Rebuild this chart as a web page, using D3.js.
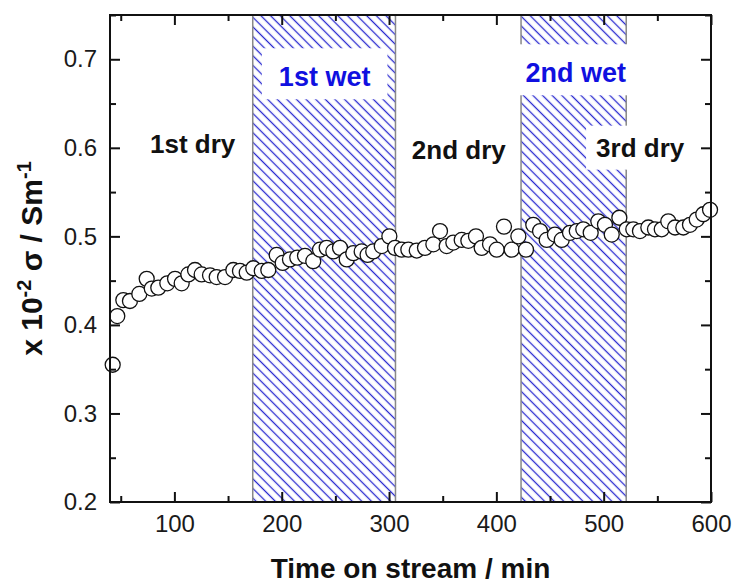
<!DOCTYPE html>
<html>
<head>
<meta charset="utf-8">
<script src="https://cdn.jsdelivr.net/npm/d3@7"></script>
<style>
  body { margin: 0; background: #fff; }
  svg { font-family: "Liberation Sans", Arial, sans-serif; }
</style>
</head>
<body>
<div id="chart"></div>
<script>
// Time on stream (min) and conductivity (x 10^-2 S/m)
const times = [
  42.5, 46.8, 52.4, 58.6, 67.3, 74.2, 78.9, 85.0, 93.4, 100.6,
  106.8, 113.0, 119.2, 125.4, 133.2, 139.4, 147.2, 154.9, 161.1, 167.4,
  173.5, 181.4, 187.5, 195.3, 200.9, 207.7, 214.5, 221.7, 229.4, 235.7,
  241.9, 248.1, 254.3, 260.6, 266.7, 274.5, 280.0, 285.3, 293.2, 300.3,
  305.6, 311.8, 318.0, 325.8, 333.5, 341.3, 347.5, 353.7, 359.9, 367.7,
  373.9, 381.0, 386.3, 394.1, 400.3, 407.1, 414.3, 420.5, 427.6, 434.4,
  440.7, 446.9, 454.6, 460.9, 468.6, 474.9, 481.0, 487.9, 495.0, 501.2,
  507.5, 514.6, 521.5, 527.6, 533.8, 541.6, 547.8, 554.1, 560.2, 566.5,
  574.2, 580.4, 586.7, 592.8, 599.1
]
const sigma = [
  0.355, 0.410, 0.428, 0.427, 0.435, 0.452, 0.441, 0.442, 0.447, 0.452,
  0.447, 0.457, 0.462, 0.457, 0.456, 0.454, 0.454, 0.462, 0.461, 0.459,
  0.464, 0.461, 0.462, 0.479, 0.470, 0.474, 0.476, 0.478, 0.472, 0.485,
  0.487, 0.483, 0.487, 0.474, 0.481, 0.483, 0.479, 0.483, 0.489, 0.500,
  0.487, 0.485, 0.485, 0.484, 0.487, 0.491, 0.506, 0.489, 0.493, 0.496,
  0.495, 0.500, 0.487, 0.491, 0.485, 0.511, 0.485, 0.500, 0.485, 0.513,
  0.506, 0.496, 0.502, 0.496, 0.504, 0.506, 0.508, 0.504, 0.517, 0.513,
  0.502, 0.521, 0.508, 0.508, 0.506, 0.510, 0.508, 0.508, 0.517, 0.510,
  0.510, 0.513, 0.519, 0.525, 0.530
]

// wet periods (min)
const wetStart = [173, 423]
const wetEnd = [306, 521]

const phaseLabels = ["1st dry", "1st wet", "2nd dry", "2nd wet", "3rd dry"]

const xTickValues = [100, 200, 300, 400, 500, 600]
const xMinorValues = [50, 150, 250, 350, 450, 550]
const yTickValues = [0.2, 0.3, 0.4, 0.5, 0.6, 0.7]
const yMinorValues = [0.25, 0.35, 0.45, 0.55, 0.65, 0.75]

const width = 737
const height = 583
const margin = { top: 15, right: 26, bottom: 81, left: 110 }

const svg = d3
  .select("#chart")
  .append("svg")
  .attr("width", width)
  .attr("height", height)

const x = d3.scaleLinear().domain([40, 600]).range([margin.left, width - margin.right])
const y = d3.scaleLinear().domain([0.2, 0.75]).range([height - margin.bottom, margin.top])

// hatch pattern for the wet periods
const defs = svg.append("defs")
const hatch = defs
  .append("pattern")
  .attr("id", "hatch")
  .attr("patternUnits", "userSpaceOnUse")
  .attr("width", 6.8)
  .attr("height", 10)
  .attr("patternTransform", "rotate(-45)")
hatch
  .append("line")
  .attr("x1", 3.4)
  .attr("x2", 3.4)
  .attr("y1", 0)
  .attr("y2", 10)
  .attr("stroke", "#2a2ad0")
  .attr("stroke-width", 1.3)

const wet = wetStart.map((s, i) => ({ start: s, end: wetEnd[i] }))

svg
  .selectAll("rect.wet")
  .data(wet)
  .enter()
  .append("rect")
  .attr("class", "wet")
  .attr("x", d => x(d.start))
  .attr("y", y(0.75))
  .attr("width", d => x(d.end) - x(d.start))
  .attr("height", y(0.2) - y(0.75))
  .attr("fill", "url(#hatch)")
  .attr("stroke", "#888")
  .attr("stroke-width", 1.5)

// phase labels: anchor of each label (time, sigma), colour, size, white box padding
const labelLayout = [
  { t: 117, v: 0.594, color: "#111", size: 26, padX: 0, padTop: 0 },
  { t: 240, v: 0.6695, color: "#1010e0", size: 27, padX: 17, padTop: 14 },
  { t: 365, v: 0.587, color: "#111", size: 26, padX: 0, padTop: 0 },
  { t: 474, v: 0.674, color: "#1010e0", size: 27, padX: 17, padTop: 14 },
  { t: 534, v: 0.59, color: "#111", size: 26, padX: 10, padTop: 7 }
]

const labels = svg.append("g")
phaseLabels.forEach((txt, i) => {
  const l = labelLayout[i]
  const g = labels.append("g")
  const bg = g.append("rect").attr("fill", "#fff")
  const t = g
    .append("text")
    .attr("x", x(l.t))
    .attr("y", y(l.v))
    .attr("text-anchor", "middle")
    .attr("font-weight", "bold")
    .attr("font-size", l.size)
    .attr("fill", l.color)
    .text(txt)
  if (l.padX > 0) {
    const b = t.node().getBBox()
    bg.attr("x", b.x - l.padX)
      .attr("y", b.y - l.padTop)
      .attr("width", b.width + 2 * l.padX)
      .attr("height", b.height + l.padTop + 7)
  } else {
    bg.remove()
  }
})

// data points
svg
  .append("g")
  .selectAll("circle")
  .data(times)
  .enter()
  .append("circle")
  .attr("cx", d => x(d))
  .attr("cy", (d, i) => y(sigma[i]))
  .attr("r", 7.5)
  .attr("fill", "#fff")
  .attr("stroke", "#111")
  .attr("stroke-width", 1.3)

// axes with inward ticks on all four sides
const plotBottom = height - margin.bottom
const plotRight = width - margin.right

function styleAxis(g) {
  g.select(".domain").remove()
  g.selectAll(".tick line").attr("stroke", "#111").attr("stroke-width", 2)
  g.selectAll(".tick text")
    .attr("font-size", 24)
    .attr("fill", "#1a1a1a")
    .attr("font-family", "'Liberation Sans', Arial, sans-serif")
}

svg.append("g")
  .attr("transform", `translate(0, ${plotBottom})`)
  .call(d3.axisBottom(x).tickValues(xTickValues).tickSize(-10).tickPadding(13))
  .call(styleAxis)
svg.append("g")
  .attr("transform", `translate(0, ${plotBottom})`)
  .call(d3.axisBottom(x).tickValues(xMinorValues).tickSize(-6).tickFormat(""))
  .call(styleAxis)
svg.append("g")
  .attr("transform", `translate(0, ${margin.top})`)
  .call(d3.axisTop(x).tickValues(xTickValues).tickSize(-10).tickFormat(""))
  .call(styleAxis)
svg.append("g")
  .attr("transform", `translate(0, ${margin.top})`)
  .call(d3.axisTop(x).tickValues(xMinorValues).tickSize(-6).tickFormat(""))
  .call(styleAxis)

svg.append("g")
  .attr("transform", `translate(${margin.left}, 0)`)
  .call(d3.axisLeft(y).tickValues(yTickValues).tickSize(-10).tickPadding(13).tickFormat(d3.format(".1f")))
  .call(styleAxis)
svg.append("g")
  .attr("transform", `translate(${margin.left}, 0)`)
  .call(d3.axisLeft(y).tickValues(yMinorValues).tickSize(-6).tickFormat(""))
  .call(styleAxis)
svg.append("g")
  .attr("transform", `translate(${plotRight}, 0)`)
  .call(d3.axisRight(y).tickValues(yTickValues).tickSize(-10).tickFormat(""))
  .call(styleAxis)
svg.append("g")
  .attr("transform", `translate(${plotRight}, 0)`)
  .call(d3.axisRight(y).tickValues(yMinorValues).tickSize(-6).tickFormat(""))
  .call(styleAxis)

// frame
svg
  .append("rect")
  .attr("x", margin.left)
  .attr("y", margin.top)
  .attr("width", plotRight - margin.left)
  .attr("height", plotBottom - margin.top)
  .attr("fill", "none")
  .attr("stroke", "#111")
  .attr("stroke-width", 2)

// axis titles
svg
  .append("text")
  .attr("x", (margin.left + plotRight) / 2)
  .attr("y", 578)
  .attr("text-anchor", "middle")
  .attr("font-weight", "bold")
  .attr("font-size", 28)
  .attr("fill", "#111")
  .text("Time on stream / min")

const yTitle = svg
  .append("text")
  .attr("transform", `translate(42, ${(margin.top + plotBottom) / 2}) rotate(-90)`)
  .attr("text-anchor", "middle")
  .attr("font-weight", "bold")
  .attr("font-size", 30)
  .attr("fill", "#111")
yTitle.append("tspan").text("x 10")
yTitle.append("tspan").attr("dy", -11).attr("font-size", 20).text("-2")
yTitle.append("tspan").attr("dy", 11).text(" σ / Sm")
yTitle.append("tspan").attr("dy", -11).attr("font-size", 20).text("-1")
</script>
</body>
</html>
